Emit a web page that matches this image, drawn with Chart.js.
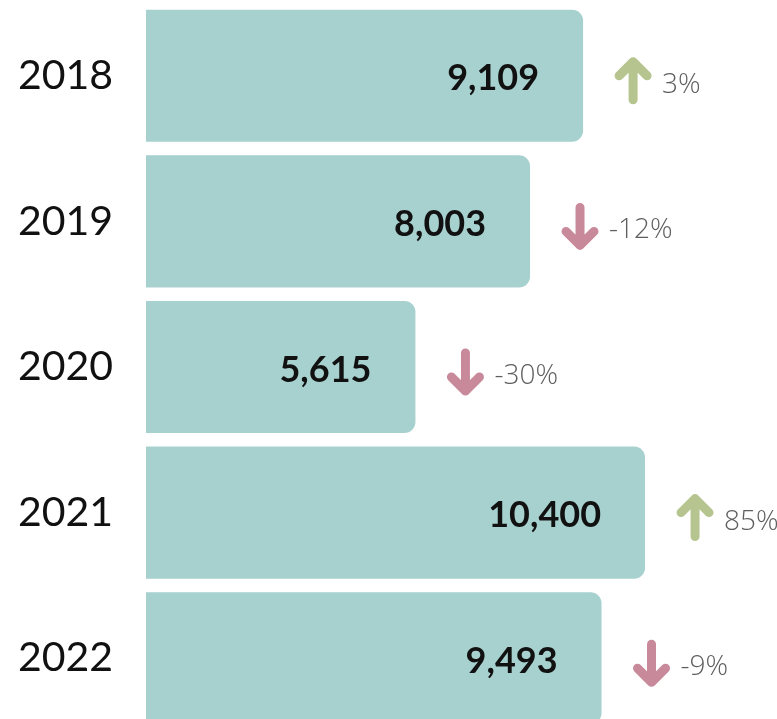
<!DOCTYPE html>
<html>
<head>
<meta charset="utf-8">
<script src="https://cdn.jsdelivr.net/npm/chart.js@4"></script>
<style>
  html, body { margin: 0; padding: 0; background: #fff; overflow: hidden; }
  #wrap { position: relative; width: 777px; height: 732px; }
</style>
</head>
<body>
<div id="wrap"><canvas id="chart"></canvas></div>
<script>
// data
const years = ["2018", "2019", "2020", "2021", "2022"];
const sales = [9109, 8003, 5615, 10400, 9493];
const changes = [3, -12, -30, 85, -9]; // percent change

const barColor = "#a7d1cf";
const upColor = "#b6c58f";
const downColor = "#c8899a";

// value inside bar + arrow and % change to the right of the bar
const barNotes = {
  id: "barNotes",
  afterDatasetsDraw(chart) {
    const ctx = chart.ctx;
    const meta = chart.getDatasetMeta(0);
    ctx.save();
    meta.data.forEach((bar, i) => {
      const end = bar.x;
      const mid = bar.y;

      ctx.fillStyle = "#111";
      ctx.font = "bold 36px Lato";
      ctx.textAlign = "right";
      ctx.textBaseline = "middle";
      ctx.fillText(sales[i].toLocaleString("en-US"), end - 44, mid + 3);

      // arrow
      const up = changes[i] >= 0;
      const ax = end + 50;
      const ay = mid + 5;
      const half = 19;
      const head = 14;
      ctx.strokeStyle = up ? upColor : downColor;
      ctx.lineWidth = 9;
      ctx.lineCap = "round";
      ctx.lineJoin = "round";
      ctx.beginPath();
      ctx.moveTo(ax, ay - half);
      ctx.lineTo(ax, ay + half);
      if (up) {
        ctx.moveTo(ax - head, ay - half + head);
        ctx.lineTo(ax, ay - half);
        ctx.lineTo(ax + head, ay - half + head);
      } else {
        ctx.moveTo(ax - head, ay + half - head);
        ctx.lineTo(ax, ay + half);
        ctx.lineTo(ax + head, ay + half - head);
      }
      ctx.stroke();

      ctx.fillStyle = "#5e5e5e";
      ctx.font = "300 28px 'Open Sans'";
      ctx.textAlign = "left";
      ctx.fillText(changes[i] + "%", end + 79, mid + 9);
    });
    ctx.restore();
  }
};

new Chart(document.getElementById("chart"), {
  type: "bar",
  data: {
    labels: years,
    datasets: [
      {
        data: sales,
        backgroundColor: barColor,
        borderRadius: 11,
        categoryPercentage: 1,
        barPercentage: 0.907,
      },
    ],
  },
  options: {
    indexAxis: "y",
    responsive: true,
    maintainAspectRatio: false,
    animation: false,
    layout: { padding: { top: 3, bottom: 1, left: 0, right: 0 } },
    plugins: {
      legend: { display: false },
      tooltip: { enabled: false },
    },
    scales: {
      x: {
        display: false,
        min: 0,
        max: 13150,
      },
      y: {
        afterFit: (scale) => {
          scale.width = 146;
          scale.paddingTop = 0;
          scale.paddingBottom = 0;
        },
        grid: { display: false, drawTicks: false },
        border: { display: false },
        ticks: {
          color: "#111",
          padding: 33,
          font: { family: "Lato", size: 41 },
        },
      },
    },
  },
  plugins: [barNotes],
});
</script>
</body>
</html>
